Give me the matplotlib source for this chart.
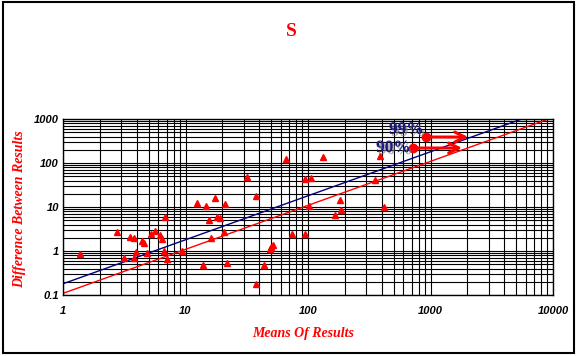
import numpy as np
import matplotlib
matplotlib.use("Agg")
import matplotlib.pyplot as plt
import matplotlib.patheffects as pe
from matplotlib.patches import Rectangle

# pontos: media dos resultados x diferenca entre resultados
means = [1.37, 2.78, 3.13, 3.51, 3.80, 3.80, 3.98, 4.45, 4.56, 4.89,
         5.21, 5.61, 6.21, 6.49, 6.65, 6.86, 7.03, 9.45, 12.5, 14.0,
         14.8, 15.6, 16.3, 17.4, 18.1, 19.3, 20.6, 21.1, 22.0, 31.9,
         37.6, 37.6, 44.0, 48.9, 50.1, 52.1, 66.6, 74.5, 93.9, 93.9,
         102, 105, 133, 166, 183, 186, 353, 388, 418]
diffs = [0.855, 2.71, 0.69, 2.12, 1.98, 0.68, 0.97, 1.69, 1.55, 0.92,
         2.40, 2.85, 2.35, 1.84, 1.0, 5.84, 0.67, 1.0, 12.2, 0.47,
         10.6, 5.08, 1.98, 16.4, 6.05, 5.74, 2.71, 12.0, 0.52, 48.4,
         17.6, 0.18, 0.47, 1.13, 1.23, 1.35, 122, 2.40, 42.8, 2.48,
         10.4, 45.2, 138, 6.6, 14.5, 8.73, 42.1, 141, 10.2]

# limites (diferenca = k * media)
k99 = 0.18
k90 = 0.109
xline = [1, 10000]

# setas dos rotulos: (x inicio, x fim, y seta, y texto)
lbl99 = (919, 2030, 389, 570)
lbl90 = (719, 1810, 219, 219)

fig = plt.figure(figsize=(5.76, 3.56), dpi=100)
ax = fig.add_axes([63/576, 1-295/356, 490/576, 176/356])

ax.set_xscale('log')
ax.set_yscale('log')
ax.set_xlim(1, 10000)
ax.set_ylim(0.1, 1000)

ax.grid(True, which='both', color='black', lw=0.8)
ax.set_axisbelow(True)

ax.plot(xline, [k99*v for v in xline], color='#000080', lw=1)
ax.plot(xline, [k90*v for v in xline], color='red', lw=1)
ax.plot(means, diffs, '^', color='red', ms=4, mec='red')

shadow = [pe.withSimplePatchShadow(offset=(1.5, -1.5), shadow_rgbFace='gray', alpha=0.6)]
for (x0, x1, yy, yt), txt in [(lbl99, '99%'), (lbl90, '90%')]:
    ax.annotate('', xy=(x1, yy), xytext=(x0, yy),
                arrowprops=dict(arrowstyle='->', color='red', lw=2.2,
                                mutation_scale=18, shrinkA=0, shrinkB=0))
    ax.plot([x0], [yy], 'o', color='red', ms=6)
    ax.text(x0*0.96, yt, txt, ha='right', va='center', color='#1a1a80',
            fontsize=12.5, fontweight='bold', family='Liberation Serif',
            path_effects=shadow)

ax.set_xticks([1, 10, 100, 1000, 10000])
ax.set_xticklabels(['1', '10', '100', '1000', '10000'])
ax.set_yticks([0.1, 1, 10, 100, 1000])
ax.set_yticklabels(['0.1', '1', '10', '100', '1000'])
ax.tick_params(which='both', length=0, pad=8)
for lab in ax.get_xticklabels() + ax.get_yticklabels():
    lab.set_family('Liberation Sans')
    lab.set_fontstyle('italic')
    lab.set_fontweight('bold')
    lab.set_fontsize(8)
ax.tick_params(axis='y', pad=3)
for s in ax.spines.values():
    s.set_color('black')
    s.set_lw(1)

fig.text(291/576, 1-31/356, 'S', color='red', fontsize=14, fontweight='bold',
         family='Liberation Serif', ha='center', va='center')
fig.text(303/576, 1-334/356, 'Means Of Results', color='red', fontsize=10,
         fontweight='bold', style='italic', family='Liberation Serif',
         ha='center', va='center')
fig.text(20/576, 1-209/356, 'Difference Between Results', color='red', fontsize=10,
         fontweight='bold', style='italic', family='Liberation Serif',
         ha='center', va='center', rotation=90)

fig.patches.append(Rectangle((3/576, 3/356), 571/576, 351/356, fill=False,
                             ec='black', lw=1.5, transform=fig.transFigure))

fig.savefig('out.png', dpi=100)
